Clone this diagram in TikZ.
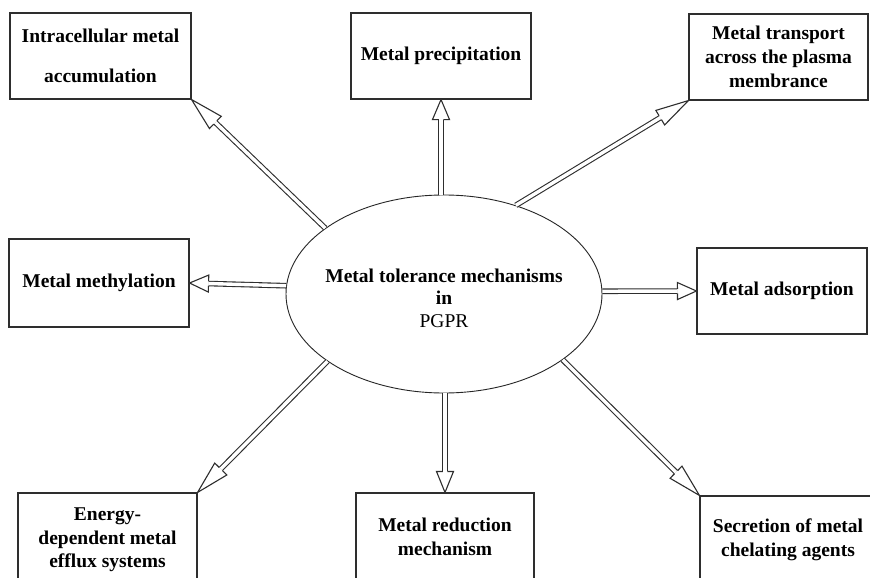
\documentclass[tikz,border=0pt]{standalone}
\usepackage{fontspec}
\setmainfont{Liberation Serif}
\usetikzlibrary{shapes.geometric,calc}
\newcommand\blockarrow[3]{% #1 start, #2 tip, #3 head length
  \coordinate (ba-s) at (#1);
  \coordinate (ba-t) at (#2);
  \coordinate (ba-b) at ($(ba-t)!#3!(ba-s)$);
  \coordinate (ba-L) at ($(ba-b)!8.5pt!90:(ba-t)$);
  \coordinate (ba-R) at ($(ba-b)!8.5pt!-90:(ba-t)$);
  \coordinate (ba-sL) at ($(ba-b)!2.25pt!90:(ba-t)$);
  \coordinate (ba-sR) at ($(ba-b)!2.25pt!-90:(ba-t)$);
  \draw[shaftline] (ba-s) -- (ba-b);
  \fill[white] (ba-t) -- (ba-L) -- (ba-R) -- cycle;
  \draw[headline] (ba-sL) -- (ba-L) -- (ba-t) -- (ba-R) -- (ba-sR);
}
\begin{document}
\begin{tikzpicture}[x=1pt,y=-1pt,
  box/.style={draw=black!82, line width=1.1pt, inner sep=0pt, align=center,
    font=\fontsize{19.5}{23.5}\selectfont\bfseries},
  ell/.style={ellipse, draw=black!85, line width=0.9pt, inner sep=0pt,
    minimum width=316pt, minimum height=198pt},
  etext/.style={align=center, inner sep=0pt,
    font=\fontsize{19.5}{22.5}\selectfont\bfseries},
  shaftline/.style={draw=black!82, line width=1.1pt, double=white, double distance=3.4pt},
  headline/.style={draw=black!82, line width=1.1pt, line join=miter}]
\clip (0,0) rectangle (870,578);
\fill[white] (0,0) rectangle (870,578);

\node[ell] (e) at (444,294) {};
\node[etext] (et) at (444,298) {Metal tolerance mechanisms\\ in\\ {\mdseries PGPR}};

\node[box, minimum width=181pt, minimum height=86pt] (b1) at (100.5,56)
  {Intracellular metal\\[16pt]accumulation};
\node[box, minimum width=180pt, minimum height=86pt] (b2) at (441,56)
  {Metal precipitation};
\node[box, minimum width=179pt, minimum height=86pt, font=\fontsize{19.5}{24}\selectfont\bfseries] (b3) at (778.5,57)
  {Metal transport\\ across the plasma\\ membrance};
\node[box, minimum width=180pt, minimum height=88pt] (b4) at (99,283)
  {Metal methylation};
\node[box, minimum width=170pt, minimum height=86pt] (b5) at (782,291)
  {Metal adsorption};
\node[box, minimum width=179pt, minimum height=94pt] (b6) at (107.5,540)
  {Energy-\\ dependent metal\\ efflux systems};
\node[box, minimum width=178pt, minimum height=88pt] (b7) at (445,537)
  {Metal reduction\\ mechanism};
\node[box, minimum width=176pt, minimum height=88pt] (b8) at (788,540)
  {Secretion of metal\\ chelating agents};

\coordinate (s2) at (e.north -| b2.south);
\coordinate (s7) at (e.south -| b7.north);
\blockarrow{e.151}{b1.south east}{33pt}
\blockarrow{s2}{b2.south}{20pt}
\blockarrow{e.51}{b3.south west}{33pt}
\blockarrow{e.177}{b4.east}{19pt}
\blockarrow{e.1}{b5.west}{19pt}
\blockarrow{e.210}{b6.north east}{33pt}
\blockarrow{s7}{b7.north}{21pt}
\blockarrow{e.331}{b8.north west}{33pt}
\end{tikzpicture}
\end{document}
